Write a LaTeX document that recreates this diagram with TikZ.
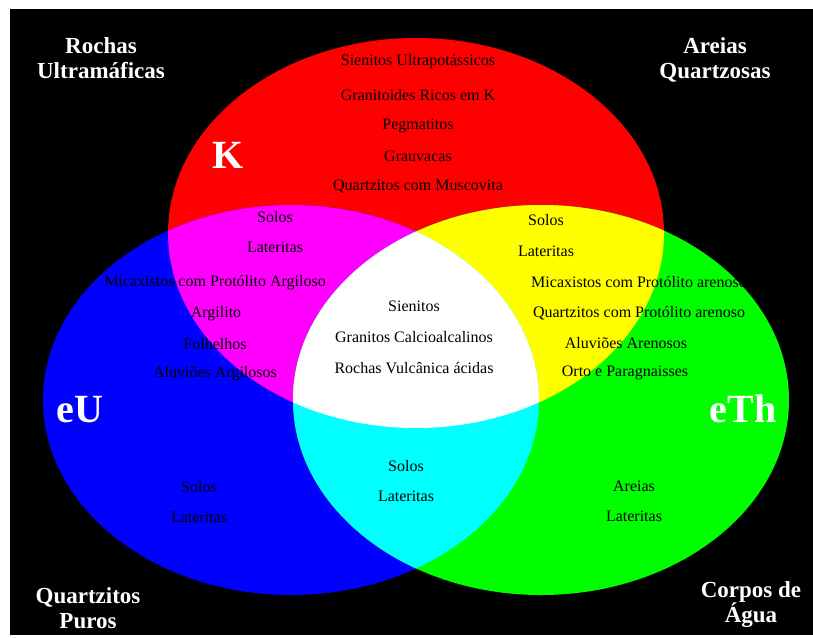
\documentclass[tikz,border=0pt]{standalone}
\usepackage{fontspec}
\setmainfont{Liberation Serif}

\definecolor{kred}{RGB}{255,0,0}
\definecolor{ublue}{RGB}{0,0,255}
\definecolor{tgreen}{RGB}{0,255,0}
\definecolor{kumag}{RGB}{255,0,255}
\definecolor{ktyel}{RGB}{255,255,0}
\definecolor{utcyan}{RGB}{0,255,255}

\tikzset{
    lbl/.style={font=\fontsize{16}{18}\selectfont, text=black, inner sep=0pt},
    corner/.style={font=\fontsize{23}{25}\selectfont\bfseries, text=white, align=center, inner sep=0pt},
    elem/.style={font=\fontsize{40}{42}\selectfont\bfseries, text=white, inner sep=0pt},
}

\begin{document}
\begin{tikzpicture}[x=1pt, y=-1pt]

    \useasboundingbox (0,0) rectangle (813,637);
    \fill[white] (0,0) rectangle (813,637);
    \fill[black] (10,9) rectangle (813,635);

    \def\ea{248}
    \def\eb{195}

    %% Circles
    \fill[kred] (416,233) ellipse[x radius=\ea, y radius=\eb];
    \fill[ublue] (291,400) ellipse[x radius=\ea, y radius=\eb];
    \fill[tgreen] (541,400) ellipse[x radius=\ea, y radius=\eb];

    %% Overlaps with K
    \begin{scope}
        \clip (416,233) ellipse[x radius=\ea, y radius=\eb];
        \fill[kumag] (291,400) ellipse[x radius=\ea, y radius=\eb];
        \fill[ktyel] (541,400) ellipse[x radius=\ea, y radius=\eb];
    \end{scope}

    %% Overlap eU / eTh, and all three
    \begin{scope}
        \clip (291,400) ellipse[x radius=\ea, y radius=\eb];
        \fill[utcyan] (541,400) ellipse[x radius=\ea, y radius=\eb];
        \clip (541,400) ellipse[x radius=\ea, y radius=\eb];
        \fill[white] (416,233) ellipse[x radius=\ea, y radius=\eb];
    \end{scope}

    %% Corners
    \node[corner] (ultra) at (101,58) {Rochas\\Ultramáficas};
    \node[corner] (areiasq) at (715,60) {Areias\\Quartzosas};
    \node[corner] (qpuros) at (88,608) {Quartzitos\\Puros};
    \node[corner] (agua) at (751,605) {Corpos de\\Água};

    %% Elements
    \node[elem] (k) at (228,155) {K};
    \node[elem] (eu) at (80,410) {eU};
    \node[elem] (eth) at (743,409) {eTh};

    %% K only
    \node[lbl] (k1) at (418,62) {Sienitos Ultrapotássicos};
    \node[lbl] (k2) at (418,95) {Granitoides Ricos em K};
    \node[lbl] (k3) at (418,126) {Pegmatitos};
    \node[lbl] (k4) at (418,156) {Grauvacas};
    \node[lbl] (k5) at (418,186) {Quartzitos com Muscovita};

    %% K + eU
    \node[lbl] (ku1) at (275,217) {Solos};
    \node[lbl] (ku2) at (275,247) {Lateritas};
    \node[lbl] (ku3) at (215,283) {Micaxistos com Protólito Argiloso};
    \node[lbl] (ku4) at (216,314) {Argilito};
    \node[lbl] (ku5) at (215,344) {Folhelhos};
    \node[lbl] (ku6) at (215,374) {Aluviões Argilosos};

    %% K + eTh
    \node[lbl] (kt1) at (546,220) {Solos};
    \node[lbl] (kt2) at (546,251) {Lateritas};
    \node[lbl] (kt3) at (639,282) {Micaxistos com Protólito arenoso};
    \node[lbl] (kt4) at (639,313) {Quartzitos com Protólito arenoso};
    \node[lbl] (kt5) at (626,343) {Aluviões Arenosos};
    \node[lbl] (kt6) at (625,373) {Orto e Paragnaisses};

    %% K + eU + eTh
    \node[lbl] (all1) at (414,306) {Sienitos};
    \node[lbl] (all2) at (414,337) {Granitos Calcioalcalinos};
    \node[lbl] (all3) at (414,368) {Rochas Vulcânica ácidas};

    %% eU + eTh
    \node[lbl] (ut1) at (406,466) {Solos};
    \node[lbl] (ut2) at (406,496) {Lateritas};

    %% eU only
    \node[lbl] (u1) at (199,487) {Solos};
    \node[lbl] (u2) at (199,517) {Lateritas};

    %% eTh only
    \node[lbl] (t1) at (634,486) {Areias};
    \node[lbl] (t2) at (634,516) {Lateritas};

\end{tikzpicture}
\end{document}
